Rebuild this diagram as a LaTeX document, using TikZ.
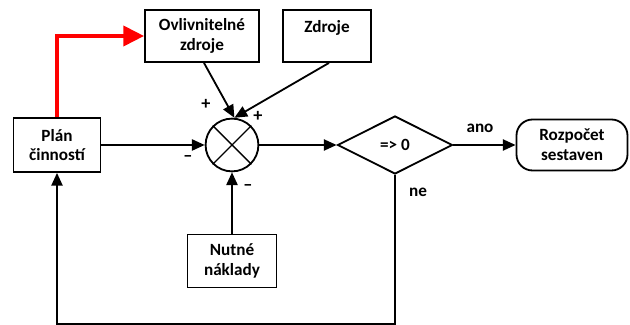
\documentclass[tikz,border=0pt]{standalone}
\usepackage{fontspec}
\setmainfont{Carlito}
\usepackage{tikz}
\usetikzlibrary{arrows.meta,shapes.geometric}
\usetikzlibrary{positioning}
\tikzstyle{block} = [rectangle, draw=black, line width=1.3pt, align=center, inner sep=2pt]
\tikzstyle{decision} = [diamond, draw=black, line width=1.3pt, minimum width=2.875cm, minimum height=1.45cm, inner sep=0pt]
\tikzstyle{finish} = [rectangle, rounded corners=0.4cm, draw=black, line width=1.3pt, align=center, minimum width=2.775cm, minimum height=1.275cm]
\tikzstyle{sumnode} = [circle, draw=black, line width=1.3pt, minimum size=1.32cm, inner sep=0pt]
\tikzstyle{line} = [draw, line width=1.3pt, -{Triangle[length=0.32cm,width=0.28cm]}]
\tikzstyle{redline} = [draw=red, line width=2.8pt, -{Triangle[length=0.52cm,width=0.5cm]}]
\tikzstyle{sign} = [font=\bfseries\fontsize{13}{15}\selectfont, inner sep=0pt]

\begin{document}
\begin{tikzpicture}[font=\bfseries\fontsize{12.2}{14}\selectfont]
\useasboundingbox (0,0) rectangle (15.75,-8.125);

\node (ovl) [block, minimum width=2.85cm, minimum height=1.3cm] at (5.05,-0.9) {Ovlivnitelné\\zdroje};
\node (zdr) [block, minimum width=2.2cm, minimum height=1.3cm] at (8.175,-0.9) {Zdroje\\~};
\node (plan) [block, minimum width=2.175cm, minimum height=1.35cm] at (1.425,-3.625) {Plán\\činností};
\node (sum) [sumnode] at (5.8,-3.625) {};
\draw[line width=1pt] (sum.45) -- (sum.225) (sum.135) -- (sum.-45);
\node (test) [decision] at (9.875,-3.625) {=> 0};
\node (rozp) [finish] at (14.3,-3.625) {Rozpočet\\sestaven};
\node (nutne) [block, minimum width=2.225cm, minimum height=1.325cm] at (5.8,-6.525) {Nutné\\náklady};
\coordinate (down) at (9.875,-8.09);
\coordinate (back) at (1.425,-8.09);

% connectors
\path [redline] (plan.north) |- (ovl.west);
\path [line] ([xshift=0.05cm]ovl.south) -- (sum.85);
\path [line] ([xshift=0.05cm]zdr.south) -- (sum.85);
\path [line] (plan.east) -- (sum.west);
\path [line] (nutne.north) -- (sum.south);
\path [line] (sum.east) -- (test.west);
\path [line] (test.east) -- (rozp.west);
\path [line] (test.south) -- (down) -- (back) -- (plan.south);

% signs and labels
\node (p1) [sign] at (5.15,-2.6) {+};
\node (p2) [sign] at (6.45,-2.92) {+};
\node (m1) [sign] at (4.7,-3.97) {--};
\node (m2) [sign] at (6.2,-4.68) {--};
\node (ano) at (12.0,-3.22) {ano};
\node (ne) at (10.45,-4.82) {ne};
\end{tikzpicture}
\end{document}
